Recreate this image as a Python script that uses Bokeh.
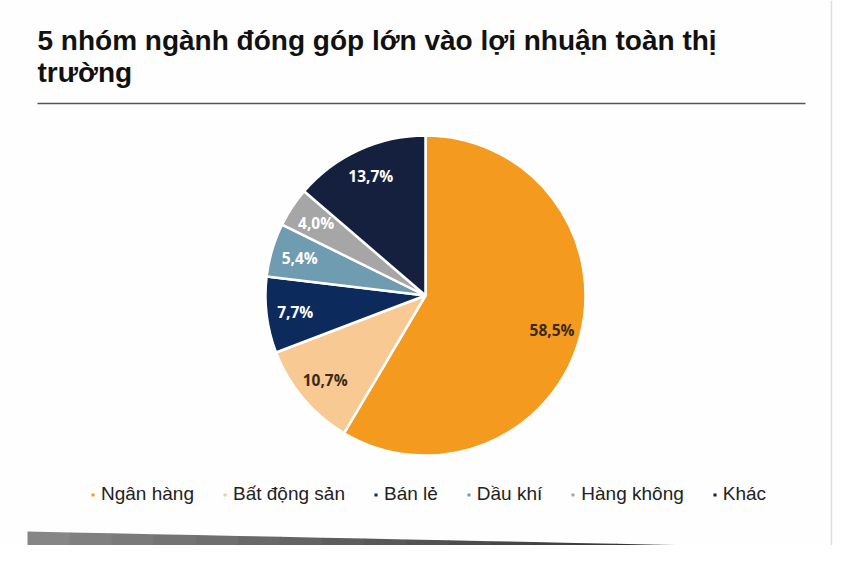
import math
from bokeh.plotting import figure
from bokeh.models import ColumnDataSource, Range1d, Label, Legend, LegendItem
from bokeh.embed import file_html
from bokeh.resources import INLINE
from bokeh.core.properties import value

# ---------------- data ----------------
title_lines = ["5 nhóm ngành đóng góp lớn vào lợi nhuận toàn thị", "trường"]
sectors = ["Ngân hàng", "Bất động sản", "Bán lẻ", "Dầu khí", "Hàng không", "Khác"]
shares = [58.5, 10.7, 7.7, 5.4, 4.0, 13.7]
share_labels = ["58,5%", "10,7%", "7,7%", "5,4%", "4,0%", "13,7%"]
colors = ["#F39A1F", "#F9C994", "#0C2A5C", "#6F9CB1", "#A6A6A6", "#14203D"]
label_colors = ["#3A2A18", "#3A2A18", "#FFFFFF", "#FFFFFF", "#FFFFFF", "#FFFFFF"]

# ---------------- layout ----------------
W, H = 834, 545
CX, CY, R = 425, 250, 160

total = sum(shares)
starts, ends, lx, ly = [], [], [], []
cum = 0.0
for s in shares:
    a0 = math.pi / 2 - 2 * math.pi * cum / total
    cum += s
    a1 = math.pi / 2 - 2 * math.pi * cum / total
    starts.append(a0)
    ends.append(a1)
    mid = (a0 + a1) / 2
    lx.append(CX + 0.82 * R * math.cos(mid))
    ly.append(CY + 0.82 * R * math.sin(mid))

src = ColumnDataSource(dict(sector=sectors, share=shares, start=starts, end=ends,
                            color=colors, lx=lx, ly=ly, lab=share_labels,
                            lcol=label_colors))

p = figure(width=W, height=H, x_range=Range1d(0, W), y_range=Range1d(0, H),
           output_backend="svg", toolbar_location=None, min_border=0)
p.axis.visible = False
p.grid.visible = False
p.outline_line_color = None
p.background_fill_color = "#FEFEFE"
p.border_fill_color = "#FEFEFE"

# right page border
p.segment(x0=[831], y0=[0], x1=[831], y1=[H], line_color="#DEDEDE", line_width=1.5)

# title
for i, t in enumerate(title_lines):
    p.add_layout(Label(x=37, y=H - 40 - 32 * i, text=t, text_font="Liberation Sans",
                       text_font_style="bold", text_font_size="28px",
                       text_color="#111111", text_baseline="alphabetic"))
p.segment(x0=[37], y0=[H - 103], x1=[805], y1=[H - 103], line_color="#555555",
          line_width=1.5)

# pie
r = p.wedge(x=CX, y=CY, radius=R, start_angle="start", end_angle="end",
            direction="clock", fill_color="color", line_color="white",
            line_width=2.5, source=src)
p.text(x="lx", y="ly", text="lab", text_color="lcol", source=src,
       text_font=value("Open Sans"), text_font_style="bold",
       text_font_size="15.5px", text_align="center", text_baseline="middle")

# legend
items = [LegendItem(label=s, renderers=[r], index=i) for i, s in enumerate(sectors)]
legend = Legend(items=items, orientation="horizontal", location=(89, 40),
                glyph_width=7, glyph_height=7, label_standoff=5, spacing=27,
                padding=0, margin=0, border_line_alpha=0, background_fill_alpha=0,
                label_text_font="Liberation Sans", label_text_font_size="19px",
                label_text_color="#222222", label_height=20)
p.add_layout(legend)

# decorative bottom wedge (gradient)
n = 16
x_left, x_right, y_top_left = 27, 700, 14
c0, c1 = (0x86, 0x86, 0x86), (0x30, 0x30, 0x30)
for k in range(n):
    xa = x_left + (x_right - x_left) * k / n
    xb = x_left + (x_right - x_left) * (k + 1) / n
    ya = y_top_left * (1 - k / n)
    yb = y_top_left * (1 - (k + 1) / n)
    f = k / (n - 1)
    col = "#%02x%02x%02x" % tuple(int(c0[j] + (c1[j] - c0[j]) * f) for j in range(3))
    p.patch(x=[xa, xb + 0.6, xb + 0.6, xa], y=[ya, yb, 0, 0], fill_color=col,
            line_color=None)

open("out.html", "w").write(file_html(p, INLINE))
